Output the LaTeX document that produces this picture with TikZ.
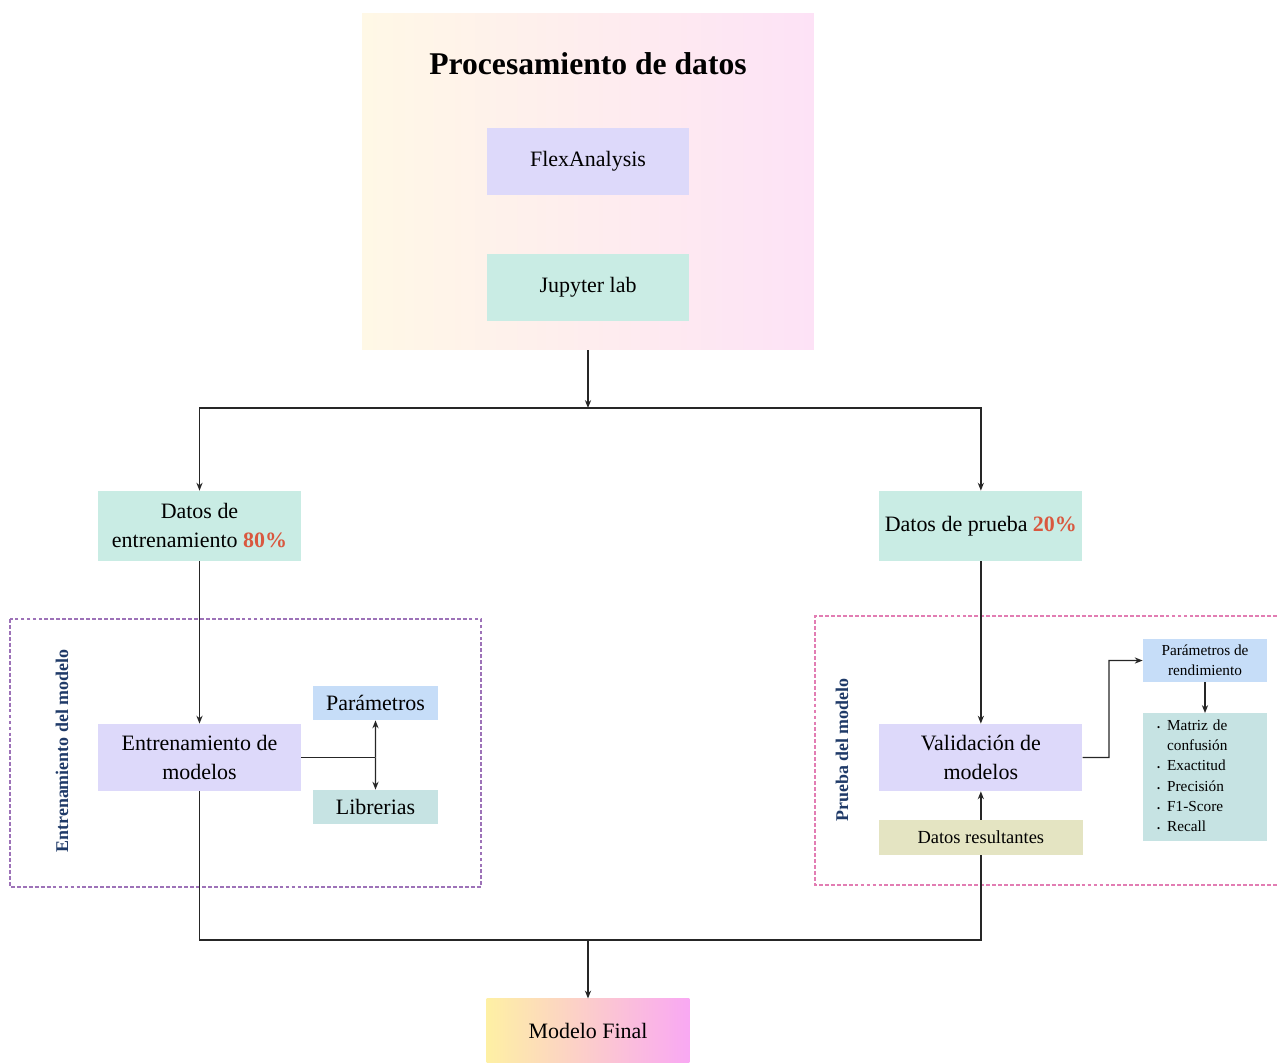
\documentclass[tikz,border=0pt]{standalone}
\usepackage{fontspec}
\setmainfont{Liberation Serif}
\usetikzlibrary{arrows.meta}

\definecolor{lavbox}{HTML}{DDD9FA}
\definecolor{mintbox}{HTML}{C9ECE4}
\definecolor{skybox}{HTML}{C6DDF8}
\definecolor{tealbox}{HTML}{C6E3E3}
\definecolor{olivebox}{HTML}{E4E4C2}
\definecolor{pctred}{HTML}{D9583F}
\definecolor{labelblue}{HTML}{1F3A68}
\definecolor{trainedge}{HTML}{9D72B8}
\definecolor{testedge}{HTML}{E27DB3}
\definecolor{procleft}{HTML}{FFF8E6}
\definecolor{procright}{HTML}{FDE2F6}
\definecolor{finalleft}{HTML}{FEF0A4}
\definecolor{finalright}{HTML}{F9A8F3}

\begin{document}
\begin{tikzpicture}[x=0.02cm, y=-0.02cm]
\tikzset{node distance=2cm,
    block/.style={rectangle, minimum width=4.06cm, minimum height=1.34cm, align=center, inner sep=2pt, font=\fontsize{12.5}{16.5}\selectfont},
    tool/.style={rectangle, minimum width=2.5cm, minimum height=0.68cm, inner sep=2pt, font=\fontsize{12.5}{15.5}\selectfont},
    smallbox/.style={rectangle, minimum width=2.48cm, align=center, inner sep=2pt, font=\fontsize{8.7}{11.4}\selectfont},
    sidelabel/.style={rotate=90, text=labelblue, font=\fontsize{10.2}{12}\selectfont\bfseries},
    frame/.style={line width=0.6pt, dash pattern=on 2.2pt off 1.2pt},
    line/.style={line width=0.8pt, draw=black!85},
    >={Stealth[length=4.5pt, width=3.5pt]}
}
\useasboundingbox (0,0) rectangle (1277,1063);

  % procesamiento
  \node[rectangle, minimum width=9.04cm, minimum height=6.74cm, left color=procleft, right color=procright] (proc) at (588,181.5) {};
  \node[font=\fontsize{18}{22}\selectfont\bfseries] (title) at (588,64) {Procesamiento de datos};
  \node[block, fill=lavbox] (flex) at (588,161.5) {FlexAnalysis};
  \node[block, fill=mintbox, below of=flex, node distance=2.52cm] (jupyter) {Jupyter lab};
  \coordinate (split) at (588,408);

  % division de datos
  \node[block, fill=mintbox, minimum height=1.4cm] (train) at (199.5,526) {Datos de\\entrenamiento \textcolor{pctred}{\textbf{80\%}}};
  \node[block, fill=mintbox, minimum height=1.4cm, right of=train, node distance=15.63cm] (test) {Datos de prueba \textcolor{pctred}{\textbf{20\%}}};

  % entrenamiento
  \node[block, fill=lavbox, below of=train, node distance=4.63cm] (model) {Entrenamiento de\\modelos};
  \coordinate[right of=model, node distance=3.52cm] (fork);
  \node[tool, fill=skybox] (params) at (375.5,703) {Parámetros};
  \node[tool, fill=tealbox, below of=params, node distance=2.08cm] (libs) {Librerias};
  \node[sidelabel] (trainlbl) at (62,751) {Entrenamiento del modelo};

  % prueba
  \node[block, fill=lavbox, below of=test, node distance=4.63cm] (valid) {Validación de\\modelos};
  \node[block, fill=olivebox, minimum width=4.08cm, minimum height=0.7cm, font=\fontsize{10.5}{13}\selectfont, below of=valid, node distance=1.6cm] (result) {Datos resultantes};
  \coordinate (bend) at (1109,757.5);
  \node[smallbox, fill=skybox, minimum height=0.86cm] (perf) at (1205,660.5) {Parámetros de\\rendimiento};
  \node[smallbox, fill=tealbox, minimum height=2.48cm, text width=1.92cm, inner xsep=0.28cm, align=left, below of=perf, node distance=2.33cm] (metrics) {%
    \begin{tabular}{@{}l@{\hspace{4pt}}l@{}}
    {\tiny\textbullet} & Matriz de\\
     & confusión\\
    {\tiny\textbullet} & Exactitud\\
    {\tiny\textbullet} & Precisión\\
    {\tiny\textbullet} & F1-Score\\
    {\tiny\textbullet} & Recall
    \end{tabular}};
  \node[sidelabel] (testlbl) at (842,750) {Prueba del modelo};

  % modelo final
  \node[block, minimum height=1.28cm, left color=finalleft, right color=finalright, below of=flex, node distance=17.39cm] (final) {Modelo Final};
  \coordinate (join) at (588,940);

  % marcos
  \draw[trainedge, frame] (10,619) rectangle (481,887);
  \draw[testedge, frame] (1277,616) -- (815,616) -- (815,885) -- (1277,885);

  % conexiones
  \draw[line, ->] (proc) -- (split);
  \draw[line, ->] (split) -| (train);
  \draw[line, ->] (split) -| (test);
  \draw[line, ->] (train) -- (model);
  \draw[line, ->] (test) -- (valid);
  \draw[line] (model) -- (fork);
  \draw[line, ->] (fork) -- (params);
  \draw[line, ->] (fork) -- (libs);
  \draw[line, ->] (result) -- (valid);
  \draw[line, ->] (valid) -- (bend) |- (perf);
  \draw[line, ->] (perf) -- (metrics);
  \draw[line] (model) |- (join);
  \draw[line] (result) |- (join);
  \draw[line, ->] (join) -- (final);
\end{tikzpicture}
\end{document}
